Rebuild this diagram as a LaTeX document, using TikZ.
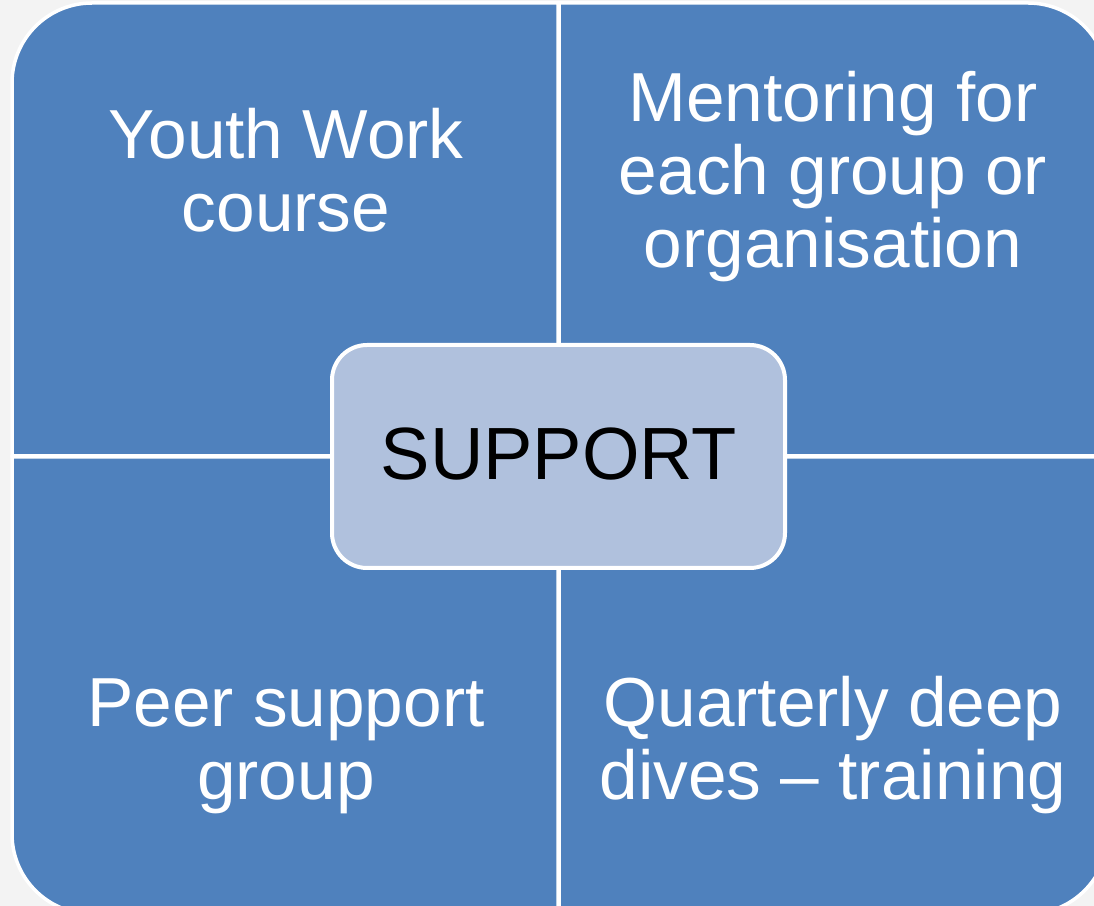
\documentclass[tikz,border=0pt]{standalone}
\usepackage{fontspec}
\setmainfont{Liberation Sans}
\definecolor{quadblue}{HTML}{4F81BD}
\definecolor{centerfill}{HTML}{B0C1DD}
\definecolor{pagegray}{HTML}{F3F3F3}
\begin{document}
\begin{tikzpicture}[x=0.5pt,y=0.5pt,
  quad/.style={fill=quadblue,draw=white,line width=1.75pt},
  qtext/.style={text=white,align=center,anchor=base,inner sep=0pt,font=\fontsize{34.7}{36.5}\selectfont},
  hub/.style={fill=centerfill,draw=white,line width=2pt,rounded corners=17.5pt,
    minimum width=226.5pt,minimum height=111.5pt,inner sep=0pt,
    font=\fontsize{37}{40}\selectfont,text=black}]
\fill[pagegray] (0,0) rectangle (1094,906);
\useasboundingbox (0,0) rectangle (1094,906);
% quadrants
\path[quad] (558,450) -- (12,450) -- (12,823) arc[start angle=180,end angle=90,radius=40pt] -- (558,903) -- cycle;
\path[quad] (559,450) -- (1108,450) -- (1108,823) arc[start angle=0,end angle=90,radius=40pt] -- (559,903) -- cycle;
\path[quad] (558,449) -- (12,449) -- (12,72) arc[start angle=180,end angle=270,radius=40pt] -- (558,-8) -- cycle;
\path[quad] (559,449) -- (1108,449) -- (1108,72) arc[start angle=0,end angle=-90,radius=40pt] -- (559,-8) -- cycle;
% texts (base anchor = baseline of the last line)
\node[qtext] (tl) at (286,674) {Youth Work\\course};
\node[qtext] (tr) at (833,638) {Mentoring for\\each group or\\organisation};
\node[qtext] (bl) at (286,106) {Peer support\\group};
\node[qtext] (br) at (833,106) {Quarterly deep\\dives -- training};
% hub
\node[hub] (hub) at (558.5,449.5) {};
\node[anchor=base,inner sep=0pt,font=\fontsize{37}{40}\selectfont] (hublabel) at (559,426) {SUPPORT};
\end{tikzpicture}
\end{document}
